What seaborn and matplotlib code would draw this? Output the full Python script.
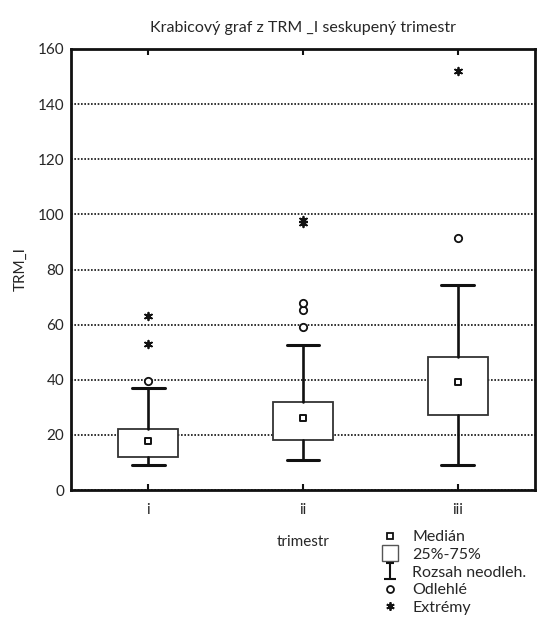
import matplotlib
matplotlib.use("Agg")
import matplotlib.pyplot as plt
import seaborn as sns
import pandas as pd
from matplotlib.lines import Line2D
from matplotlib.path import Path

# Box statistics (Statistica style box plot)
groups = ["i", "ii", "iii"]
q1 = [11.9, 18.0, 27.3]
median = [17.8, 26.0, 39.2]
q3 = [22.0, 32.1, 48.1]
whisk_lo = [9.1, 10.9, 9.1]
whisk_hi = [37.1, 52.5, 74.5]

# outliers (circles) and extremes (asterisks)
outlier_group = ["i", "ii", "ii", "ii", "iii"]
outlier_val = [39.4, 59.0, 65.2, 67.9, 91.3]
extreme_group = ["i", "i", "ii", "ii", "iii"]
extreme_val = [53.1, 63.0, 96.7, 98.0, 152.1]

y_ticks = [0, 20, 40, 60, 80, 100, 120, 140, 160]

sns.set_theme(style="white")
plt.rcParams["font.family"] = ["Lato", "DejaVu Sans"]

fig = plt.figure(figsize=(5.39, 6.24), dpi=100)
ax = fig.add_axes([71 / 539, 1 - 490 / 624, 464 / 539, 441 / 624])

med_df = pd.DataFrame({"trimestr": groups, "TRM_I": median})
out_df = pd.DataFrame({"trimestr": outlier_group, "TRM_I": outlier_val})
ext_df = pd.DataFrame({"trimestr": extreme_group, "TRM_I": extreme_val})

stats = []
for g, a, m, b, lo, hi in zip(groups, q1, median, q3, whisk_lo, whisk_hi):
    stats.append(dict(label=g, q1=a, med=m, q3=b, whislo=lo, whishi=hi, fliers=[]))

ax.bxp(stats, positions=range(len(groups)), widths=0.39, capwidths=0.21,
       showfliers=False, patch_artist=True,
       boxprops=dict(facecolor="white", edgecolor="#333333", linewidth=1.3),
       whiskerprops=dict(color="#111111", linewidth=1.9),
       capprops=dict(color="#111111", linewidth=2.2),
       medianprops=dict(linewidth=0))

sns.scatterplot(data=med_df, x="trimestr", y="TRM_I", marker="s", s=22,
                facecolor="white", edgecolor="#111111", linewidth=1.4, ax=ax, zorder=4)
sns.scatterplot(data=out_df, x="trimestr", y="TRM_I", marker="o", s=28,
                facecolor="white", edgecolor="#111111", linewidth=1.3, ax=ax, zorder=4)
sns.scatterplot(data=ext_df, x="trimestr", y="TRM_I", marker=(6, 2, 0), s=30,
                color="#111111", linewidth=1.3, ax=ax, zorder=4)

ax.set_xlim(-0.5, 2.5)
ax.set_ylim(0, 160)
ax.set_xticks(range(len(groups)), groups)
ax.set_yticks(y_ticks, [str(t) for t in y_ticks])
ax.set_axisbelow(True)
ax.yaxis.grid(True, linestyle=(0, (1, 1)), color="#111111", linewidth=1.2)
for s in ax.spines.values():
    s.set_color("#111111")
    s.set_linewidth(2)
ax.tick_params(axis="x", direction="in", top=True, bottom=True, length=4, width=1.5,
               color="#111111", labelsize=11, pad=9)
ax.tick_params(axis="y", length=0, labelsize=11, pad=5)

ax.set_title("Krabicový graf z TRM _I seskupený trimestr", fontsize=11.5, pad=12)
ax.set_xlabel("trimestr", fontsize=11, labelpad=13)
ax.set_ylabel("TRM_I", fontsize=11, labelpad=7)

# legend with Statistica style symbols
ibeam = Path([(-0.5, 1), (0.5, 1), (0, 1), (0, -1), (-0.8, -1), (0.8, -1)],
             [Path.MOVETO, Path.LINETO, Path.MOVETO, Path.LINETO, Path.MOVETO, Path.LINETO])
handles = [
    Line2D([], [], ls="", marker="s", ms=5, mfc="white", mec="#111111", mew=1.3),
    Line2D([], [], ls="", marker="s", ms=12, mfc="white", mec="#555555", mew=1),
    Line2D([], [], ls="", marker=ibeam, ms=11, mec="#111111", mew=1.5),
    Line2D([], [], ls="", marker="o", ms=5, mfc="white", mec="#111111", mew=1.3),
    Line2D([], [], ls="", marker=(6, 2, 0), ms=6, mec="#111111", mew=1.3),
]
labels = ["Medián", "25%-75%", "Rozsah neodleh.", "Odlehlé", "Extrémy"]
fig.legend(handles, labels, loc="upper left", bbox_to_anchor=(382 / 539, 1 - 530 / 624),
           frameon=False, handlelength=1, handletextpad=0.9, labelspacing=0.22,
           borderpad=0, borderaxespad=0, fontsize=11.5)

fig.savefig("out.png", dpi=100)
